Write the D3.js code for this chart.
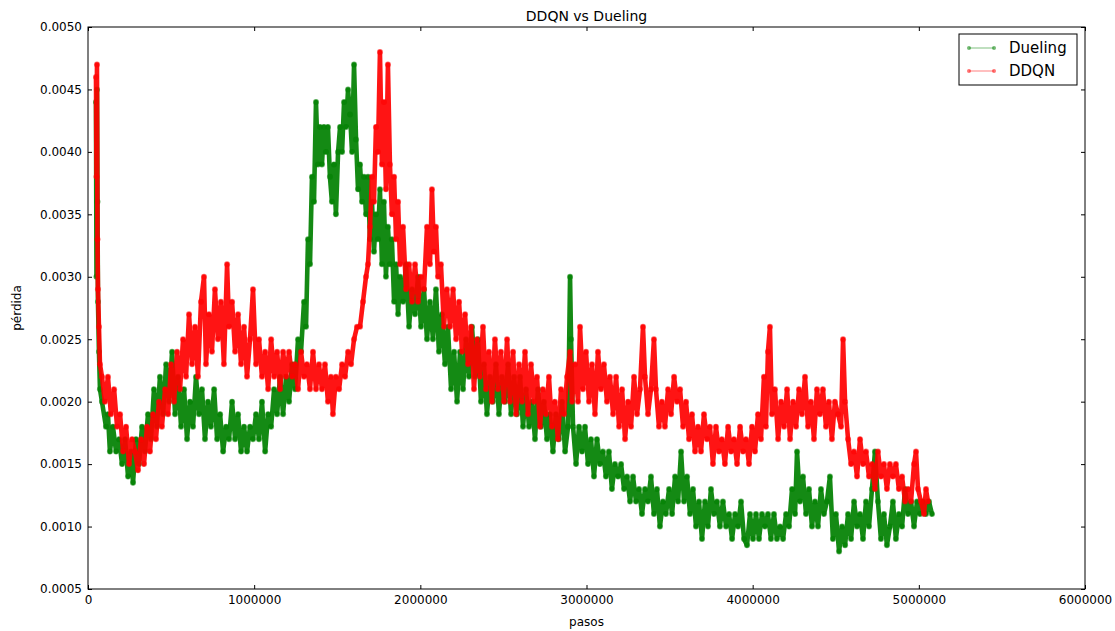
<!DOCTYPE html>
<html><head><meta charset="utf-8">
<script src="https://cdn.jsdelivr.net/npm/d3@7"></script>
<style>body{margin:0;background:#fff}svg text{font-family:"DejaVu Sans",sans-serif}</style>
</head><body><svg id="c" width="1115" height="631"></svg>
<script>
const title = "DDQN vs Dueling";
const xLabel = "pasos";
const yLabel = "pérdida";
const seriesNames = ["Dueling", "DDQN"];
const seriesColors = ["#008000", "#ff0000"];
const xTicks = [0, 1000000, 2000000, 3000000, 4000000, 5000000, 6000000];
const yTicks = [0.0005, 0.0010, 0.0015, 0.0020, 0.0025, 0.0030, 0.0035, 0.0040, 0.0045, 0.0050];

// Dueling: steps (thousands) and loss
const dueStepsK = [48,51,54,57,60,66,72,84,108,120,132,150,169,187,205,223,241,259,271,289,307,325,343,361,379,397,415,433,452,470,488,506,524,542,560,578,596,614,632,650,668,686,704,722,740,759,777,795,813,831,849,867,885,903,921,939,957,975,993,1011,1029,1047,1066,1084,1102,1120,1138,1156,1174,1192,1210,1228,1246,1264,1282,1300,1312,1324,1336,1348,1360,1372,1384,1396,1408,1420,1432,1444,1456,1468,1480,1492,1505,1517,1529,1541,1553,1565,1577,1589,1601,1613,1625,1637,1649,1661,1673,1685,1697,1709,1721,1733,1745,1757,1769,1781,1793,1805,1817,1829,1842,1854,1866,1878,1896,1914,1932,1950,1968,1986,2004,2022,2040,2058,2076,2094,2112,2130,2148,2166,2185,2203,2221,2239,2257,2275,2293,2311,2329,2347,2365,2383,2401,2419,2437,2455,2473,2491,2510,2528,2546,2564,2582,2600,2618,2636,2654,2672,2690,2708,2726,2744,2762,2780,2798,2816,2834,2853,2871,2889,2901,2907,2919,2937,2955,2973,2991,3009,3027,3045,3063,3081,3099,3117,3135,3153,3171,3190,3208,3226,3244,3262,3280,3298,3316,3334,3352,3370,3388,3406,3424,3442,3460,3478,3497,3515,3533,3551,3569,3587,3605,3623,3641,3659,3677,3695,3713,3731,3749,3767,3785,3803,3821,3840,3858,3876,3894,3912,3930,3948,3966,3984,4002,4020,4038,4056,4074,4092,4110,4128,4146,4165,4183,4201,4219,4237,4255,4267,4285,4303,4321,4339,4357,4375,4393,4411,4429,4447,4465,4483,4501,4520,4538,4556,4574,4592,4610,4628,4646,4664,4682,4700,4718,4736,4754,4772,4790,4808,4826,4844,4862,4880,4899,4917,4935,4953,4971,4989,5007,5025,5043,5061,5079];
const dueLoss = [0.0044,0.0030,0.0045,0.0036,0.0028,0.0024,0.0021,0.0020,0.0018,0.0019,0.0016,0.0018,0.0016,0.0017,0.0015,0.0017,0.0014,0.0016,0.00135,0.0017,0.0015,0.0018,0.0016,0.0019,0.0017,0.0021,0.0018,0.0022,0.0019,0.0023,0.0020,0.0024,0.0019,0.0022,0.0018,0.0021,0.0017,0.0020,0.0018,0.0022,0.0019,0.0021,0.0017,0.0020,0.0018,0.0021,0.0017,0.0019,0.0016,0.0018,0.0017,0.0020,0.0017,0.0019,0.0016,0.0018,0.0016,0.0018,0.0017,0.0019,0.0017,0.0020,0.0016,0.0019,0.0018,0.0021,0.0019,0.0022,0.0019,0.0022,0.0020,0.0023,0.0021,0.0025,0.0024,0.0028,0.0026,0.0033,0.0031,0.0038,0.0036,0.0044,0.0039,0.0042,0.0039,0.0042,0.0040,0.0042,0.0038,0.0036,0.0039,0.0035,0.0040,0.0042,0.0040,0.0044,0.0042,0.0045,0.0043,0.0040,0.0047,0.0041,0.0037,0.0039,0.0036,0.0038,0.0035,0.0038,0.0033,0.0036,0.0032,0.0035,0.0033,0.0037,0.0031,0.0036,0.0030,0.0034,0.0031,0.0033,0.0028,0.0031,0.0027,0.0030,0.0028,0.0031,0.0026,0.0029,0.0027,0.0030,0.0026,0.0029,0.0025,0.0028,0.0025,0.0029,0.0024,0.0027,0.0023,0.0026,0.0021,0.0024,0.0020,0.0024,0.0021,0.0025,0.0022,0.0026,0.0022,0.0025,0.0020,0.0023,0.0019,0.0022,0.0020,0.0023,0.0019,0.0022,0.0020,0.0023,0.0019,0.0022,0.0019,0.0022,0.0018,0.0021,0.0018,0.0020,0.0017,0.0021,0.0018,0.0020,0.0017,0.0019,0.0016,0.0019,0.0017,0.0020,0.0016,0.0018,0.0030,0.0025,0.0018,0.0015,0.0018,0.0016,0.0018,0.0015,0.0017,0.0014,0.0017,0.0015,0.0016,0.0014,0.0016,0.0013,0.0015,0.0014,0.0015,0.0013,0.0014,0.0012,0.0014,0.0012,0.0013,0.0011,0.0013,0.0012,0.0014,0.0011,0.0013,0.0010,0.0012,0.0011,0.0013,0.0011,0.0014,0.0012,0.0016,0.0012,0.0014,0.0011,0.0013,0.0010,0.0012,0.0009,0.0012,0.0010,0.0013,0.0011,0.0012,0.0010,0.0012,0.0010,0.0011,0.0009,0.0011,0.0010,0.0012,0.0009,0.00085,0.0011,0.0009,0.0011,0.0009,0.0011,0.0010,0.0011,0.0009,0.0011,0.0009,0.0010,0.0009,0.0011,0.0010,0.0013,0.0011,0.0016,0.0012,0.0014,0.0011,0.0013,0.0010,0.0012,0.0010,0.0013,0.0011,0.0012,0.0014,0.0009,0.0011,0.0008,0.0010,0.00085,0.0011,0.0009,0.0012,0.0010,0.0011,0.0009,0.0012,0.0010,0.0013,0.0016,0.0012,0.0009,0.0011,0.00085,0.0010,0.0012,0.0009,0.0011,0.0010,0.0013,0.0011,0.0012,0.0010,0.0012,0.0011,0.0012,0.0011,0.0012,0.0011];

// DDQN: steps (thousands) and loss
const ddqnStepsK = [48,51,54,57,60,66,72,84,102,120,138,157,175,193,211,229,247,265,283,301,319,337,355,373,391,409,427,445,464,482,500,518,536,554,572,590,608,626,644,662,680,698,710,728,746,764,782,800,818,837,849,867,885,903,921,939,957,975,993,1011,1029,1047,1066,1084,1102,1120,1138,1156,1174,1192,1210,1228,1246,1264,1282,1300,1318,1336,1354,1372,1390,1408,1426,1444,1462,1474,1492,1511,1529,1547,1565,1583,1601,1619,1637,1655,1673,1685,1697,1709,1721,1733,1745,1757,1769,1781,1793,1805,1817,1829,1842,1854,1866,1878,1896,1914,1932,1950,1968,1986,2004,2022,2040,2058,2070,2082,2094,2106,2124,2142,2160,2179,2197,2215,2233,2251,2269,2287,2305,2323,2341,2359,2377,2395,2413,2431,2449,2467,2485,2503,2522,2540,2558,2576,2594,2612,2630,2648,2666,2684,2702,2720,2738,2756,2774,2792,2810,2828,2847,2865,2883,2901,2913,2931,2949,2961,2979,2997,3015,3033,3051,3069,3087,3105,3123,3141,3160,3178,3196,3214,3232,3250,3268,3286,3304,3322,3340,3352,3370,3388,3406,3418,3436,3454,3472,3491,3509,3527,3545,3563,3581,3599,3617,3635,3653,3671,3689,3707,3725,3743,3761,3779,3797,3815,3833,3852,3870,3888,3906,3924,3942,3960,3978,3996,4014,4032,4050,4068,4080,4092,4104,4116,4134,4153,4171,4189,4207,4225,4243,4261,4279,4297,4315,4333,4351,4369,4387,4405,4423,4441,4459,4477,4495,4514,4532,4544,4556,4574,4592,4610,4628,4646,4664,4682,4700,4718,4736,4754,4772,4790,4808,4826,4844,4862,4880,4899,4917,4935,4953,4971,4983,4995,5013,5031,5043,5055];
const ddqnLoss = [0.0046,0.0038,0.0047,0.0033,0.0029,0.0026,0.0023,0.0022,0.0020,0.0022,0.0019,0.0021,0.0018,0.0019,0.0016,0.0018,0.0015,0.0017,0.0016,0.00145,0.0017,0.0015,0.0018,0.0016,0.0019,0.0017,0.0020,0.0018,0.0021,0.0019,0.0023,0.0020,0.0024,0.0021,0.0025,0.0022,0.0027,0.0023,0.0026,0.0022,0.0028,0.0030,0.0023,0.0027,0.0024,0.0029,0.0025,0.0028,0.0023,0.0031,0.0026,0.0028,0.0024,0.0027,0.0023,0.0026,0.0022,0.0025,0.0029,0.0023,0.0025,0.0022,0.0024,0.0021,0.0025,0.0022,0.0024,0.0021,0.0024,0.0022,0.0024,0.0022,0.0023,0.0021,0.0024,0.0022,0.0023,0.0021,0.0024,0.0021,0.0023,0.0021,0.0023,0.0020,0.0022,0.0019,0.0022,0.0021,0.0023,0.0022,0.0024,0.0023,0.0025,0.0026,0.0026,0.0028,0.0030,0.0031,0.0034,0.0038,0.0036,0.0042,0.0040,0.0048,0.0039,0.0044,0.0037,0.0047,0.0039,0.0035,0.0038,0.0033,0.0036,0.0031,0.0034,0.0029,0.0031,0.0028,0.0031,0.0028,0.0030,0.0029,0.0034,0.0031,0.0037,0.0032,0.0034,0.0030,0.0031,0.0026,0.0029,0.0026,0.0029,0.0025,0.0028,0.0024,0.0027,0.0023,0.0026,0.0021,0.0025,0.0022,0.0026,0.0021,0.0024,0.0020,0.0025,0.0021,0.0024,0.0020,0.0025,0.0020,0.0024,0.0019,0.0023,0.0020,0.0024,0.0019,0.0023,0.0020,0.0022,0.0018,0.0021,0.0019,0.0022,0.0018,0.0020,0.0017,0.0021,0.0019,0.0022,0.0024,0.0020,0.0023,0.0020,0.0026,0.0021,0.0024,0.0020,0.0023,0.0019,0.0024,0.0021,0.0023,0.0020,0.0022,0.0019,0.0022,0.0018,0.0021,0.0017,0.0020,0.0018,0.0022,0.0019,0.0021,0.0026,0.0022,0.0019,0.0021,0.0025,0.0021,0.0018,0.0020,0.0018,0.0021,0.0019,0.0022,0.0020,0.0021,0.0018,0.0020,0.0017,0.0019,0.0016,0.0018,0.0016,0.0019,0.0017,0.0018,0.0015,0.0018,0.0016,0.0017,0.0015,0.0018,0.0016,0.0017,0.0015,0.0018,0.0016,0.0017,0.0015,0.0018,0.0016,0.0019,0.0017,0.0022,0.0018,0.0024,0.0026,0.0019,0.0021,0.0017,0.0020,0.0018,0.0021,0.0017,0.0020,0.0018,0.0021,0.0019,0.0022,0.0018,0.0020,0.0017,0.0021,0.0019,0.0021,0.0018,0.0020,0.0017,0.0020,0.0019,0.0018,0.0025,0.0020,0.0017,0.0015,0.0016,0.0014,0.0017,0.0015,0.0016,0.0014,0.0015,0.0013,0.0016,0.0014,0.0015,0.0013,0.0015,0.0014,0.0015,0.0013,0.0014,0.0012,0.0013,0.0012,0.0015,0.0016,0.0013,0.0012,0.0011,0.0013,0.0012];

const W = 1115, H = 631;
const m = {left: 88, right: 1085, top: 27, bottom: 589};
const svg = d3.select("#c");
const x = d3.scaleLinear().domain([0, 6000000]).range([m.left, m.right]);
const y = d3.scaleLinear().domain([0.0005, 0.0050]).range([m.bottom, m.top]);

const series = [
  {name: seriesNames[0], color: seriesColors[0], pts: dueStepsK.map((s, i) => [s * 1000, dueLoss[i]])},
  {name: seriesNames[1], color: seriesColors[1], pts: ddqnStepsK.map((s, i) => [s * 1000, ddqnLoss[i]])}
];

svg.append("defs").append("clipPath").attr("id", "pc").append("rect")
  .attr("x", m.left).attr("y", m.top).attr("width", m.right - m.left).attr("height", m.bottom - m.top);

const plot = svg.append("g").attr("clip-path", "url(#pc)");
const line = d3.line().x(d => x(d[0])).y(d => y(d[1]));
series.forEach(s => {
  const g = plot.append("g");
  g.append("path").datum(s.pts).attr("d", line).attr("fill", "none")
    .attr("stroke", s.color).attr("stroke-width", 4.6).attr("stroke-opacity", 0.92)
    .attr("stroke-linejoin", "round").attr("stroke-linecap", "round");
  g.selectAll("circle").data(s.pts).join("circle")
    .attr("cx", d => x(d[0])).attr("cy", d => y(d[1])).attr("r", 3)
    .attr("fill", s.color).attr("fill-opacity", 0.6);
});

const fmtY = d3.format(".4f");
const axB = d3.axisBottom(x).tickValues(xTicks).tickFormat(d3.format("d")).tickSizeInner(-4).tickSizeOuter(0).tickPadding(6);
const axT = d3.axisTop(x).tickValues(xTicks).tickFormat("").tickSizeInner(-4).tickSizeOuter(0);
const axL = d3.axisLeft(y).tickValues(yTicks).tickFormat(fmtY).tickSizeInner(-4).tickSizeOuter(0).tickPadding(6);
const axR = d3.axisRight(y).tickValues(yTicks).tickFormat("").tickSizeInner(-4).tickSizeOuter(0);
function style(g){ g.select(".domain").remove(); g.selectAll("line").attr("stroke", "#000"); g.selectAll("text").attr("font-size", 12).attr("fill", "#000").attr("font-family", "DejaVu Sans"); }
svg.append("g").attr("transform", `translate(0,${m.bottom})`).call(axB).call(style);
svg.append("g").attr("transform", `translate(0,${m.top})`).call(axT).call(style);
svg.append("g").attr("transform", `translate(${m.left},0)`).call(axL).call(style);
svg.append("g").attr("transform", `translate(${m.right},0)`).call(axR).call(style);

svg.append("rect").attr("x", m.left).attr("y", m.top).attr("width", m.right - m.left).attr("height", m.bottom - m.top)
  .attr("fill", "none").attr("stroke", "#000").attr("stroke-width", 1);

svg.append("text").attr("x", (m.left + m.right) / 2).attr("y", 21).attr("text-anchor", "middle")
  .attr("font-size", 14).text(title);
svg.append("text").attr("x", (m.left + m.right) / 2).attr("y", 626).attr("text-anchor", "middle")
  .attr("font-size", 12).text(xLabel);
svg.append("text").attr("transform", `translate(21,${(m.top + m.bottom) / 2}) rotate(-90)`).attr("text-anchor", "middle")
  .attr("font-size", 12).text(yLabel);

const lg = svg.append("g").attr("transform", "translate(959,34)");
lg.append("rect").attr("width", 118).attr("height", 51).attr("fill", "#fff").attr("stroke", "#000");
series.forEach((s, i) => {
  const yy = 14 + i * 23;
  lg.append("line").attr("x1", 10).attr("x2", 35).attr("y1", yy).attr("y2", yy)
    .attr("stroke", s.color).attr("stroke-opacity", 0.5).attr("stroke-width", 1);
  [10, 35].forEach(cx => lg.append("circle").attr("cx", cx).attr("cy", yy).attr("r", 2)
    .attr("fill", s.color).attr("fill-opacity", 0.55));
  lg.append("text").attr("x", 50).attr("y", yy + 5).attr("font-size", 15).text(s.name);
});
</script></body></html>
